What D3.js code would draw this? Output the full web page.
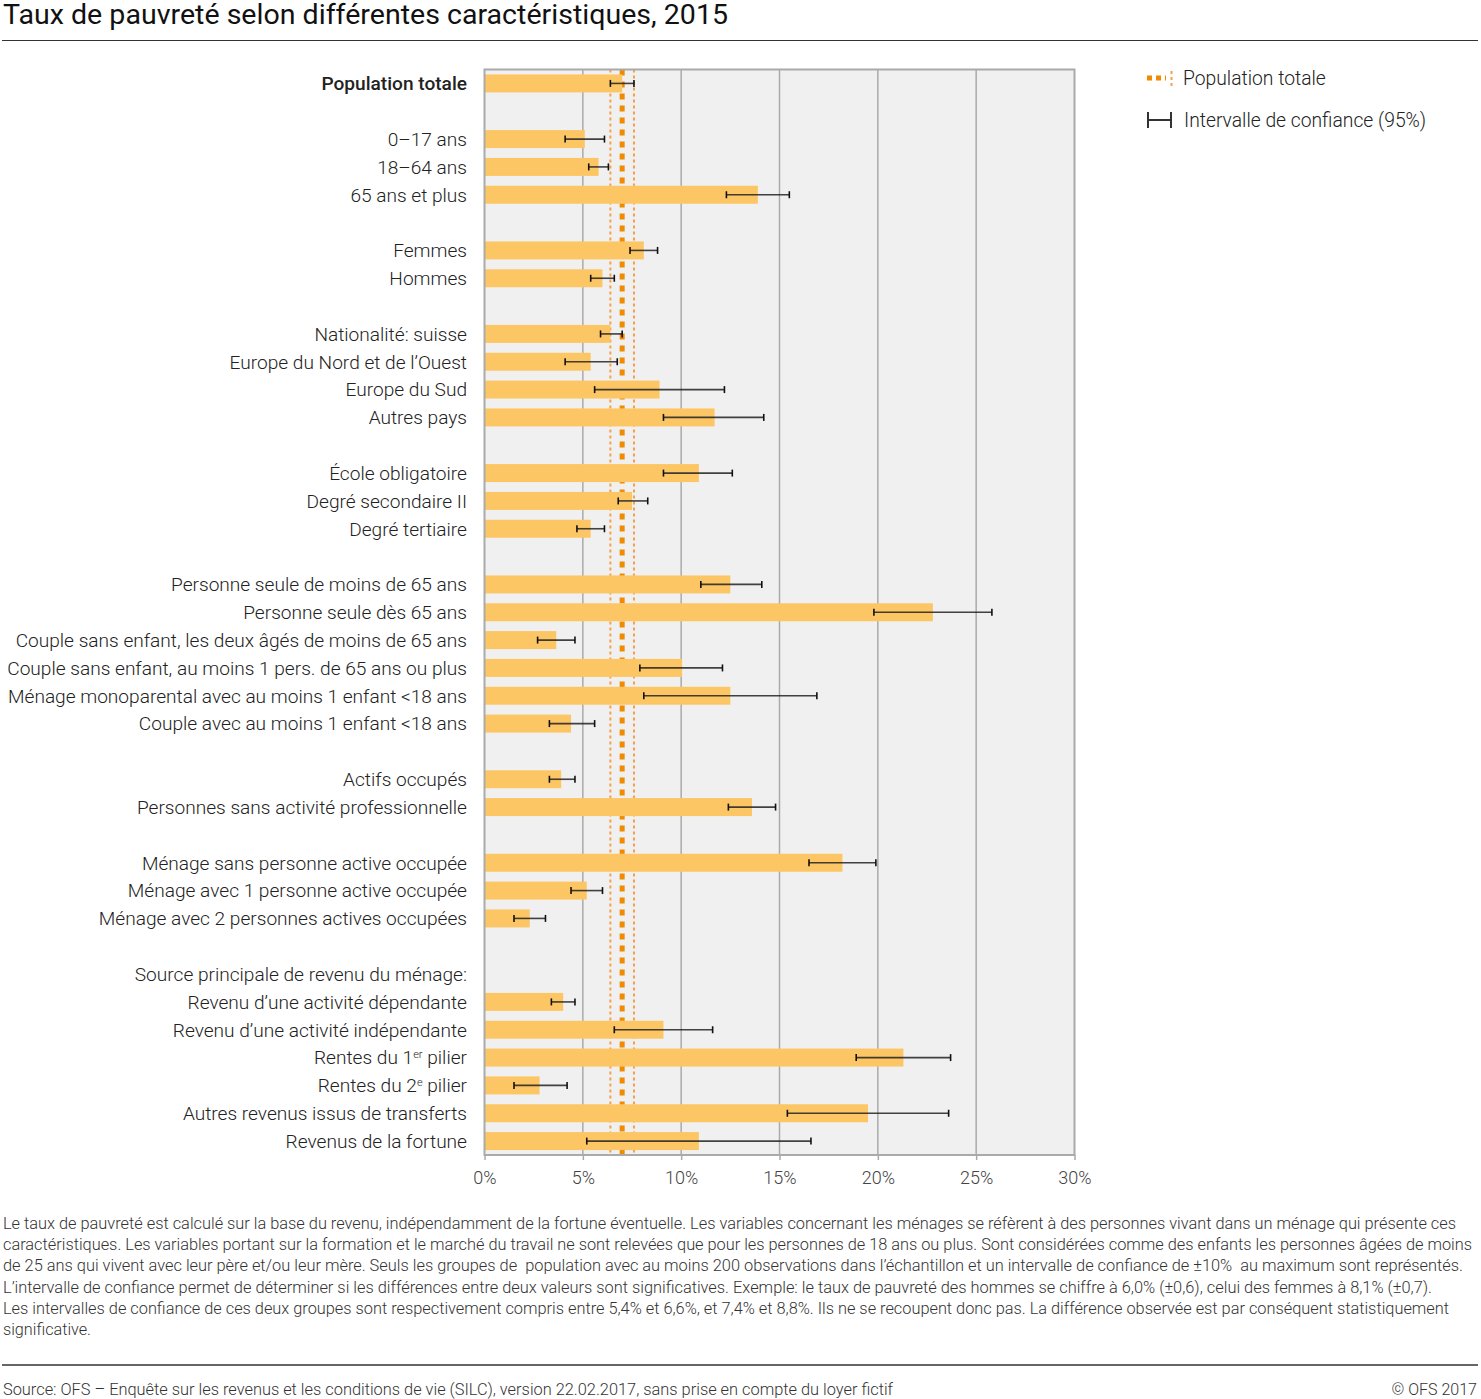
<!DOCTYPE html>
<html><head><meta charset="utf-8">
<script src="https://cdn.jsdelivr.net/npm/d3@7"></script>
<style>
body{margin:0;background:#fff;}
svg text{font-family:Roboto,"Noto Sans",sans-serif;}
</style></head>
<body>
<svg id="c" width="1481" height="1399"></svg>
<script>
// slot index, label, value, ci low, ci high
const slots = [0,2,3,4,6,7,9,10,11,12,14,15,16,18,19,20,21,22,23,25,26,28,29,30,33,34,35,36,37,38];
const labels = ["Population totale","0–17 ans","18–64 ans","65 ans et plus ","Femmes","Hommes",
 "Nationalité: suisse","Europe du Nord et de l’Ouest","Europe du Sud","Autres pays",
 "École obligatoire","Degré secondaire II","Degré tertiaire",
 "Personne seule de moins de 65 ans","Personne seule dès 65 ans","Couple sans enfant, les deux âgés de moins de 65 ans",
 "Couple sans enfant, au moins 1 pers. de 65 ans ou plus","Ménage monoparental avec au moins 1 enfant <18 ans","Couple avec au moins 1 enfant <18 ans",
 "Actifs occupés","Personnes sans activité professionnelle",
 "Ménage sans personne active occupée","Ménage avec 1 personne active occupée","Ménage avec 2 personnes actives occupées",
 "Revenu d’une activité dépendante","Revenu d’une activité indépendante","Rentes du 1|er| pilier","Rentes du 2|e| pilier",
 "Autres revenus issus de transferts","Revenus de la fortune"];
const values = [7.0,5.1,5.8,13.9,8.1,6.0,6.4,5.4,8.9,11.7,10.9,7.5,5.4,12.5,22.8,3.65,10.05,12.5,4.4,3.9,13.6,18.2,5.2,2.3,4.0,9.1,21.3,2.8,19.5,10.9];
const ciLow  = [6.4,4.1,5.3,12.3,7.4,5.4,5.9,4.1,5.6,9.1,9.1,6.8,4.7,11.0,19.8,2.7,7.9,8.1,3.3,3.3,12.4,16.5,4.4,1.5,3.4,6.6,18.9,1.5,15.4,5.2];
const ciHigh = [7.6,6.1,6.3,15.5,8.8,6.6,7.0,6.75,12.2,14.2,12.6,8.3,6.1,14.1,25.8,4.6,12.1,16.9,5.6,4.6,14.8,19.9,6.0,3.1,4.6,11.6,23.7,4.2,23.6,16.6];
const extraLabels = [{slot:32,text:"Source principale de revenu du ménage:"}];
const ticks = [0,5,10,15,20,25,30];
const popTotal = 7.0, popLow = 6.4, popHigh = 7.6;

const svg = d3.select("#c");
const L = 484.5, R = 1074.5, T = 69.5, B = 1155;
const x = d3.scaleLinear().domain([0,30]).range([L,R]);
const y = d3.scaleBand().domain(d3.range(39)).range([T,B]);
const bh = 18;

// title
svg.append("text").attr("x",3).attr("y",24).attr("font-size",27).attr("fill","#111")
 .attr("textLength",725).attr("lengthAdjust","spacingAndGlyphs")
 .text("Taux de pauvreté selon différentes caractéristiques, 2015");
svg.append("line").attr("x1",2).attr("x2",1478).attr("y1",40.5).attr("y2",40.5).attr("stroke","#333").attr("stroke-width",1.2);

// plot bg
svg.append("rect").attr("x",L).attr("y",T).attr("width",R-L).attr("height",B-T).attr("fill","#f0f0f0");
// grid
svg.selectAll(".g").data(ticks.slice(1,-1)).join("line")
 .attr("x1",d=>x(d)).attr("x2",d=>x(d)).attr("y1",T).attr("y2",B).attr("stroke","#aaa").attr("stroke-width",1.5);

// pop lines
[popLow,popHigh].forEach(v=>svg.append("line").attr("x1",x(v)).attr("x2",x(v)).attr("y1",T).attr("y2",B)
  .attr("stroke","#f5a04a").attr("stroke-width",2).attr("stroke-dasharray","3,3"));
svg.append("line").attr("x1",x(popTotal)).attr("x2",x(popTotal)).attr("y1",T).attr("y2",B)
  .attr("stroke","#f08a00").attr("stroke-width",5).attr("stroke-dasharray","6,6");

// bars
const data = labels.map((l,i)=>({slot:slots[i],label:l,v:values[i],lo:ciLow[i],hi:ciHigh[i]}));
svg.selectAll(".bar").data(data).join("rect")
 .attr("x",x(0)).attr("y",d=>y(d.slot)+y.bandwidth()/2-bh/2).attr("width",d=>x(d.v)-x(0)).attr("height",bh)
 .attr("fill","#fdc665");
// error bars
const eb = svg.selectAll(".eb").data(data).join("g").attr("transform",d=>`translate(0,${y(d.slot)+y.bandwidth()/2})`);
eb.append("line").attr("x1",d=>x(d.lo)).attr("x2",d=>x(d.hi)).attr("stroke","#222").attr("stroke-width",1.6).attr("stroke-opacity",0.85);
eb.append("line").attr("x1",d=>x(d.lo)).attr("x2",d=>x(d.lo)).attr("y1",-3.5).attr("y2",3.5).attr("stroke","#111").attr("stroke-width",1.6);
eb.append("line").attr("x1",d=>x(d.hi)).attr("x2",d=>x(d.hi)).attr("y1",-3.5).attr("y2",3.5).attr("stroke","#111").attr("stroke-width",1.6);

// frame
svg.append("rect").attr("x",L).attr("y",T).attr("width",R-L).attr("height",B-T).attr("fill","none").attr("stroke","#aaa").attr("stroke-width",2);

// x axis
const ax = svg.append("g").attr("transform",`translate(0,${B})`).call(d3.axisBottom(x).tickValues(ticks).tickSize(5).tickFormat(d=>d+"%"));
ax.select(".domain").remove();
ax.selectAll(".tick line").attr("stroke","#aaa").attr("stroke-width",1.5);
ax.selectAll(".tick text").attr("font-size",18).attr("fill","#444").attr("font-weight",300).attr("y",12).attr("dy","0.95em").attr("font-family","Roboto");

// labels
const lab = svg.selectAll(".lab").data(data.concat(extraLabels.map(e=>({slot:e.slot,label:e.text}))))
 .join("text").attr("x",467).attr("y",d=>y(d.slot)+y.bandwidth()/2).attr("dy","0.36em")
 .attr("text-anchor","end").attr("font-size",19.1).attr("fill","#222")
 .attr("font-weight",d=>d.label==="Population totale"?500:300);
lab.each(function(d){
  const t=d3.select(this);
  const parts=d.label.split("|");
  parts.forEach((p,i)=>{
    const ts=t.append("tspan").text(p);
    if(i%2===1){ts.attr("font-size",11).attr("baseline-shift","55%");}
  });
});

// legend
const lg = svg.append("g");
lg.append("line").attr("x1",1147).attr("x2",1166).attr("y1",78).attr("y2",78).attr("stroke","#f08a00").attr("stroke-width",5).attr("stroke-dasharray","5,4");
lg.append("line").attr("x1",1171.5).attr("x2",1171.5).attr("y1",71).attr("y2",86).attr("stroke","#f5a04a").attr("stroke-width",2).attr("stroke-dasharray","3,3");
lg.append("text").attr("x",1183).attr("y",78).attr("dy","0.36em").attr("font-size",19.3).attr("font-weight",300).attr("fill","#222").text("Population totale");
lg.append("line").attr("x1",1147).attr("x2",1172).attr("y1",120).attr("y2",120).attr("stroke","#333").attr("stroke-width",2);
lg.append("line").attr("x1",1148).attr("x2",1148).attr("y1",112).attr("y2",128).attr("stroke","#333").attr("stroke-width",2);
lg.append("line").attr("x1",1171).attr("x2",1171).attr("y1",112).attr("y2",128).attr("stroke","#333").attr("stroke-width",2);
lg.append("text").attr("x",1184).attr("y",120).attr("dy","0.36em").attr("font-size",19.3).attr("font-weight",300).attr("fill","#222").text("Intervalle de confiance (95%)");

// footnote
const notes = [
"Le taux de pauvreté est calculé sur la base du revenu, indépendamment de la fortune éventuelle. Les variables concernant les ménages se réfèrent à des personnes vivant dans un ménage qui présente ces",
"caractéristiques. Les variables portant sur la formation et le marché du travail ne sont relevées que pour les personnes de 18 ans ou plus. Sont considérées comme des enfants les personnes âgées de moins",
"de 25 ans qui vivent avec leur père et/ou leur mère. Seuls les groupes de  population avec au moins 200 observations dans l’échantillon et un intervalle de confiance de ±10%  au maximum sont représentés.",
"L’intervalle de confiance permet de déterminer si les différences entre deux valeurs sont significatives. Exemple: le taux de pauvreté des hommes se chiffre à 6,0% (±0,6), celui des femmes à 8,1% (±0,7).",
"Les intervalles de confiance de ces deux groupes sont respectivement compris entre 5,4% et 6,6%, et 7,4% et 8,8%. Ils ne se recoupent donc pas. La différence observée est par conséquent statistiquement",
"significative."];
const noteEnds = [1456,1472,1463,1432,1449,91];
svg.selectAll(".note").data(notes).join("text").attr("x",3).attr("y",(d,i)=>1223+i*21.3).attr("dy","0.36em")
 .attr("font-size",16).attr("font-weight",300).attr("fill","#333").attr("xml:space","preserve")
 .attr("textLength",(d,i)=>noteEnds[i]-3).attr("lengthAdjust","spacingAndGlyphs").text(d=>d);

svg.append("line").attr("x1",2).attr("x2",1478).attr("y1",1365).attr("y2",1365).attr("stroke","#333").attr("stroke-width",1.5);
svg.append("text").attr("x",3).attr("y",1389).attr("dy","0.36em").attr("font-size",16).attr("font-weight",300).attr("fill","#333")
 .attr("textLength",890).attr("lengthAdjust","spacingAndGlyphs")
 .text("Source: OFS – Enquête sur les revenus et les conditions de vie (SILC), version 22.02.2017, sans prise en compte du loyer fictif");
svg.append("text").attr("x",1477).attr("y",1389).attr("dy","0.36em").attr("text-anchor","end").attr("font-size",16).attr("font-weight",300).attr("fill","#333").text("© OFS 2017");
</script>
</body></html>
